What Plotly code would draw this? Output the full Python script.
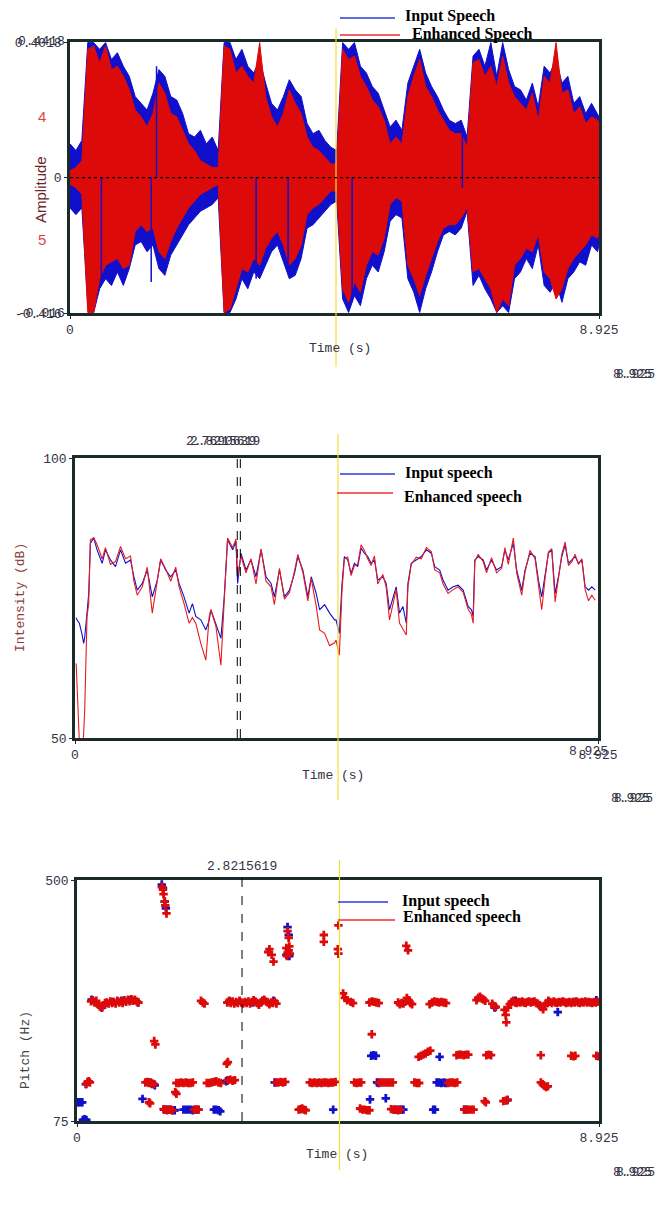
import plotly.graph_objects as go

W, H = 666, 1209
def px(x): return x / W
def py(y): return 1 - y / H

# ---------------- Panel 1: waveform envelopes (amplitude) ----------------
wave_t = [0.0,0.1,0.2,0.3,0.4,0.5,0.6,0.7,0.8,0.9,1.0,1.1,1.2,1.3,1.4,1.5,1.6,1.7,1.8,1.9,
          2.0,2.1,2.2,2.3,2.4,2.5,2.6,2.7,2.8,2.9,3.0,3.1,3.2,3.3,3.4,3.5,3.6,3.7,3.8,3.9,
          4.0,4.1,4.2,4.3,4.4,4.5,4.6,4.7,4.8,4.9,5.0,5.1,5.2,5.3,5.4,5.5,5.6,5.7,5.8,5.9,
          6.0,6.1,6.2,6.3,6.4,6.5,6.6,6.7,6.8,6.9,7.0,7.1,7.2,7.3,7.4,7.5,7.6,7.7,7.8,7.9,
          8.0,8.1,8.2,8.3,8.4,8.5,8.6,8.7,8.8,8.9,8.925]
input_upper = [0.10,0.08,0.11,0.40,0.40,0.38,0.40,0.35,0.37,0.33,0.30,0.24,0.22,0.20,0.25,0.32,0.30,0.24,0.23,0.19,
               0.13,0.12,0.14,0.10,0.12,0.08,0.40,0.40,0.35,0.38,0.33,0.31,0.35,0.28,0.22,0.20,0.24,0.29,0.26,0.24,
               0.16,0.13,0.14,0.11,0.09,0.08,0.40,0.38,0.40,0.33,0.31,0.27,0.25,0.20,0.15,0.17,0.14,0.28,0.33,0.38,
               0.31,0.27,0.24,0.20,0.17,0.16,0.17,0.12,0.36,0.38,0.33,0.40,0.30,0.40,0.32,0.27,0.26,0.23,0.28,0.21,
               0.33,0.31,0.35,0.28,0.30,0.22,0.24,0.19,0.22,0.19,0.18]
input_lower = [-0.09,-0.11,-0.09,-0.38,-0.40,-0.33,-0.30,-0.32,-0.28,-0.32,-0.27,-0.20,-0.19,-0.22,-0.20,-0.27,-0.29,-0.23,-0.20,-0.17,
               -0.14,-0.12,-0.10,-0.09,-0.08,-0.06,-0.40,-0.40,-0.36,-0.30,-0.33,-0.28,-0.30,-0.26,-0.22,-0.20,-0.25,-0.30,-0.29,-0.24,
               -0.15,-0.14,-0.12,-0.10,-0.08,-0.07,-0.36,-0.40,-0.35,-0.38,-0.30,-0.26,-0.28,-0.22,-0.13,-0.11,-0.12,-0.30,-0.34,-0.40,
               -0.33,-0.28,-0.22,-0.17,-0.16,-0.17,-0.15,-0.10,-0.32,-0.29,-0.33,-0.36,-0.40,-0.38,-0.40,-0.30,-0.28,-0.24,-0.27,-0.20,
               -0.32,-0.34,-0.31,-0.37,-0.30,-0.28,-0.25,-0.26,-0.20,-0.22,-0.20]
enh_upper = [0.02,0.03,0.05,0.38,0.39,0.34,0.39,0.32,0.33,0.30,0.26,0.20,0.18,0.15,0.19,0.28,0.25,0.19,0.18,0.14,
             0.10,0.08,0.05,0.04,0.03,0.03,0.39,0.38,0.31,0.33,0.30,0.28,0.40,0.24,0.18,0.15,0.19,0.26,0.22,0.19,
             0.12,0.09,0.08,0.06,0.04,0.04,0.38,0.35,0.36,0.30,0.27,0.23,0.21,0.17,0.10,0.12,0.10,0.24,0.30,0.35,
             0.27,0.24,0.20,0.17,0.14,0.13,0.13,0.09,0.34,0.35,0.30,0.33,0.27,0.36,0.28,0.24,0.22,0.20,0.25,0.17,
             0.30,0.28,0.40,0.25,0.26,0.19,0.21,0.16,0.18,0.17,0.16]
enh_lower = [-0.02,-0.03,-0.05,-0.40,-0.40,-0.30,-0.26,-0.25,-0.24,-0.27,-0.26,-0.16,-0.14,-0.16,-0.15,-0.22,-0.24,-0.19,-0.15,-0.12,
             -0.09,-0.07,-0.05,-0.04,-0.03,-0.02,-0.40,-0.39,-0.33,-0.27,-0.28,-0.24,-0.26,-0.21,-0.18,-0.16,-0.20,-0.26,-0.24,-0.20,
             -0.11,-0.09,-0.08,-0.06,-0.04,-0.04,-0.33,-0.37,-0.31,-0.34,-0.26,-0.22,-0.23,-0.18,-0.08,-0.06,-0.07,-0.26,-0.30,-0.35,
             -0.29,-0.24,-0.19,-0.15,-0.14,-0.14,-0.12,-0.09,-0.28,-0.27,-0.30,-0.33,-0.40,-0.36,-0.38,-0.26,-0.24,-0.21,-0.22,-0.17,
             -0.28,-0.30,-0.36,-0.33,-0.27,-0.24,-0.22,-0.20,-0.17,-0.18,-0.17]
# single input-speech spikes visible inside the red area (time, from, to)
spike_t = [0.53, 1.37, 1.46, 3.14, 3.68, 4.76, 6.62]
spike_from = [0.0, 0.0, 0.0, 0.0, 0.0, 0.0, -0.03]
spike_to = [-0.30, -0.31, 0.33, -0.30, -0.27, -0.37, 0.14]

# ---------------- Panel 2: intensity (dB) ----------------
int_t = [0.02,0.034,0.074,0.091,0.12,0.148,0.166,0.205,0.234,0.263,0.32,0.377,0.463,0.52,0.605,0.691,0.777,0.862,0.948,
         1.005,1.062,1.148,1.233,1.319,1.405,1.462,1.547,1.633,1.719,1.776,1.861,1.947,2.004,2.061,2.147,2.233,2.29,2.318,
         2.404,2.49,2.547,2.604,2.69,2.746,2.775,2.832,2.918,3.003,3.089,3.175,3.26,3.346,3.403,3.489,3.574,3.66,3.746,
         3.803,3.888,3.974,4.031,4.117,4.174,4.26,4.345,4.431,4.454,4.511,4.557,4.597,4.654,4.711,4.768,4.825,4.882,
         4.939,4.996,5.053,5.11,5.167,5.253,5.31,5.367,5.424,5.481,5.538,5.596,5.653,5.681,5.738,5.824,5.91,5.996,
         6.081,6.138,6.224,6.281,6.367,6.452,6.538,6.624,6.709,6.766,6.795,6.823,6.88,6.966,7.023,7.109,7.194,7.28,
         7.337,7.394,7.48,7.537,7.623,7.68,7.765,7.851,7.908,7.965,8.022,8.079,8.136,8.193,8.25,8.307,8.364,8.421,
         8.478,8.535,8.592,8.649,8.706,8.763,8.82,8.877]
int_input = [71.5,71.1,70.5,69.9,68.5,66.9,68.0,72.3,75.8,84.8,85.7,83.6,81.2,83.6,81.8,80.6,83.6,81.2,81.8,
             78.8,76.4,77.6,80.0,75.2,78.2,81.8,80.0,78.8,80.0,77.6,75.2,72.3,74.0,71.7,71.1,69.3,71.0,72.9,
             70.5,67.8,75.2,85.4,83.6,85.1,77.6,83.0,80.0,81.8,78.8,83.6,78.8,77.6,75.2,80.0,75.2,76.4,79.4,
             82.4,80.0,75.2,78.8,75.8,72.9,73.8,72.3,71.1,71.1,68.7,77.6,82.4,81.8,79.4,81.2,80.6,83.9,
             83.0,82.4,81.2,81.8,78.2,78.8,77.6,72.9,75.2,77.0,72.3,73.5,70.5,77.6,81.2,81.8,82.4,83.6,
             83.0,80.6,80.0,78.2,76.4,77.0,77.3,76.4,73.5,72.9,71.7,81.8,82.4,81.8,80.0,81.8,80.0,80.6,
             83.6,81.8,84.8,80.0,76.4,80.0,83.0,82.4,78.2,75.2,78.8,83.0,83.6,75.8,78.8,82.4,84.5,81.2,
             81.8,82.4,81.2,81.8,77.0,76.4,77.0,76.4]
int_enhanced = [63.3,58.0,45.0,45.0,45.0,50.5,55.0,71.7,74.0,85.4,85.8,84.5,82.0,84.0,81.0,81.5,84.2,82.0,82.5,
                78.0,75.5,77.0,80.5,72.3,77.8,82.0,80.2,78.0,80.5,77.0,74.0,70.5,71.5,70.5,66.9,63.9,71.7,72.9,
                70.0,63.0,74.6,85.7,84.0,85.5,79.0,82.5,79.5,82.0,77.5,83.8,78.0,77.0,73.8,80.3,74.8,76.0,79.8,
                82.8,79.6,74.5,78.5,73.5,69.3,68.7,66.5,67.0,67.5,64.8,76.5,82.0,82.3,79.0,80.8,81.0,84.5,
                83.5,82.0,80.8,82.5,77.5,79.2,77.0,71.1,74.0,76.5,70.5,69.3,68.4,77.0,81.0,82.3,82.0,84.0,
                83.3,80.0,79.5,77.5,75.8,76.5,77.0,76.0,73.0,72.0,70.5,81.5,82.8,81.5,79.5,82.2,79.5,80.3,
                84.0,81.0,85.7,79.5,75.5,79.6,83.5,82.0,77.5,72.9,78.5,83.2,83.8,74.3,78.5,82.8,85.0,80.8,
                81.5,82.8,81.0,82.0,76.5,74.5,75.5,74.6]

# ---------------- Panel 3: pitch (Hz) ----------------
pitch_enh_t = [0.24,0.27,0.30,0.33,0.36,0.39,0.42,0.45,0.48,0.51,0.54,0.57,0.60,0.63,0.66,0.69,0.72,0.75,0.78,0.81,0.84,0.87,0.90,0.93,0.96,0.99,1.02,1.05,
               1.45,1.47,1.48,1.50,1.51,1.53,1.32,1.34,0.16,0.18,0.20,0.22,1.17,1.20,1.23,1.26,1.29,1.32,1.23,1.25,1.68,1.70,
               1.48,1.51,1.54,1.57,1.60,1.63,1.70,1.74,1.78,1.82,1.86,1.90,1.94,1.98,2.00,2.04,2.08,2.12,2.15,2.18,
               2.22,2.26,2.30,2.34,2.38,2.42,2.46,2.56,2.58,2.58,2.62,2.66,2.70,
               2.57,2.60,2.63,2.66,2.69,2.72,2.75,2.78,2.81,2.84,2.87,2.90,2.93,2.96,2.99,3.02,3.05,3.08,3.11,3.14,3.17,3.20,3.23,3.26,3.29,3.32,3.35,3.38,3.41,
               3.27,3.29,3.33,3.36,3.40,3.44,3.48,3.52,3.56,3.60,3.62,3.58,3.60,3.62,3.64,3.59,3.63,
               3.79,3.82,3.85,3.88,3.91,3.98,4.02,4.06,4.10,4.14,4.18,4.22,4.26,4.30,4.34,4.38,4.42,4.22,4.22,4.47,4.46,4.47,
               4.55,4.58,4.62,4.68,4.72,4.74,4.78,4.82,4.86,4.84,4.88,4.92,4.96,5.00,5.04,5.00,5.04,5.08,5.12,5.16,
               5.16,5.20,5.24,5.28,5.32,5.36,5.40,5.37,5.41,5.45,5.49,5.53,5.49,5.52,5.55,5.58,5.61,5.64,5.67,5.70,5.73,
               5.63,5.66,5.77,5.81,5.85,5.84,5.88,5.92,5.96,6.00,6.04,6.03,6.07,6.11,6.15,6.19,6.23,6.27,6.31,
               6.34,6.38,6.42,6.46,6.50,6.49,6.53,6.57,6.61,6.65,6.69,6.62,6.66,6.70,6.74,6.78,6.83,6.86,6.89,6.92,6.95,6.98,
               6.97,6.99,7.00,7.04,7.08,7.10,7.13,7.16,7.29,7.33,7.36,
               7.31,7.33,7.34,7.37,7.40,7.43,7.46,7.49,7.52,7.55,7.58,7.61,7.64,7.67,7.70,7.73,7.76,7.79,7.82,7.85,7.88,7.91,7.94,7.97,
               8.00,8.03,8.06,8.09,8.12,8.15,8.18,8.21,8.24,8.27,8.30,8.33,8.36,8.39,8.42,8.45,8.48,8.51,8.54,8.57,8.60,8.63,8.66,8.69,8.72,8.75,8.78,8.81,8.84,8.87,8.90,
               7.93,7.93,7.96,7.99,8.02,8.05,8.45,8.49,8.52,8.88,8.91]
pitch_enh_hz = [286,288,284,287,281,277,275,279,283,284,282,286,283,285,282,287,284,286,283,288,285,289,286,290,287,289,286,284,
                488,483,475,462,455,441,216,210,140,144,145,143,143,144,142,143,141,140,108,106,126,123,
                96,95,94,95,95,94,142,142,143,142,143,142,142,143,95,95,95,287,284,282,
                142,142,143,144,145,143,142,176,179,147,148,146,147,
                284,287,283,286,282,285,283,287,284,282,285,283,286,282,285,288,286,283,280,284,287,289,286,284,281,284,283,286,282,
                373,378,368,356,143,143,144,143,144,410,398,380,372,376,370,366,383,
                95,96,97,95,94,143,142,143,142,143,142,143,143,142,143,143,144,403,391,420,378,370,
                300,292,288,285,283,143,142,143,143,97,95,95,94,94,228,284,286,285,284,283,
                143,143,143,143,143,143,143,96,95,95,94,95,284,281,283,282,285,292,288,283,281,
                384,376,143,142,142,188,190,192,194,197,199,281,284,286,285,284,285,284,283,
                142,143,143,142,143,191,192,192,191,192,192,95,95,95,95,95,288,292,294,291,289,287,
                110,108,191,192,191,282,278,276,110,111,112,
                271,262,249,275,281,285,287,284,283,285,284,286,284,283,285,286,284,285,286,283,282,279,276,272,
                278,283,287,285,283,286,284,283,285,284,286,285,283,284,285,283,285,284,286,284,283,285,284,286,284,285,284,283,285,284,285,
                191,143,140,137,135,136,190,189,190,190,189]
pitch_in_t = [0.00,0.03,0.06,0.09,0.10,0.13,0.16,0.15,0.25,0.31,0.43,0.61,0.76,0.91,1.04,1.12,1.45,1.47,1.50,1.52,
              1.23,1.28,1.33,1.49,1.52,1.55,1.60,1.63,1.67,1.82,1.86,1.90,1.94,1.98,2.02,2.06,2.34,2.38,2.42,2.45,
              2.55,2.57,2.61,3.01,3.36,3.60,3.62,3.58,3.63,3.38,3.83,4.38,5.03,5.07,5.11,5.01,5.28,5.13,5.16,
              5.43,5.47,5.51,5.55,5.58,6.09,6.12,6.15,6.19,6.23,6.27,6.30,6.20,6.62,6.66,7.14,7.36,7.91,8.22,7.50,8.50,8.88]
pitch_in_hz = [108,108,108,108,77,78,77,140,289,285,275,285,287,288,284,114,492,486,462,450,
               143,140,138,95,95,95,95,94,94,95,95,95,95,94,95,95,95,95,94,92,
               145,146,286,284,287,417,403,368,366,143,96,95,190,191,190,113,115,143,142,
               95,95,95,95,95,95,95,143,143,142,143,142,188,95,95,275,112,279,267,287,285,288]

BLUE = "#1010cc"
RED = "#dd0a0a"
FRAME = "#1b2a2a"
MONO = "Liberation Mono, Courier New, monospace"
SERIF = "Liberation Serif, Times New Roman, serif"
SANS = "Liberation Sans, Arial, sans-serif"

fig = go.Figure()

fig.add_trace(go.Scatter(x=wave_t + wave_t[::-1], y=input_upper + input_lower[::-1],
                         fill="toself", fillcolor=BLUE, mode="lines",
                         line=dict(color=BLUE, width=1), xaxis="x", yaxis="y",
                         name="Input Speech", hoverinfo="skip"))
fig.add_trace(go.Scatter(x=wave_t + wave_t[::-1], y=enh_upper + enh_lower[::-1],
                         fill="toself", fillcolor=RED, mode="lines",
                         line=dict(color=RED, width=1), xaxis="x", yaxis="y",
                         name="Enhanced Speech", hoverinfo="skip"))
sx, sy = [], []
for t, a, b in zip(spike_t, spike_from, spike_to):
    sx += [t, t, None]
    sy += [a, b, None]
fig.add_trace(go.Scatter(x=sx, y=sy, mode="lines", line=dict(color=BLUE, width=1.5),
                         xaxis="x", yaxis="y", hoverinfo="skip", name="Input Speech"))

fig.add_trace(go.Scatter(x=int_t, y=int_input, mode="lines", line=dict(color=BLUE, width=1.1),
                         xaxis="x2", yaxis="y2", name="Input speech"))
fig.add_trace(go.Scatter(x=int_t, y=int_enhanced, mode="lines", line=dict(color="#e81c1c", width=1.1),
                         xaxis="x2", yaxis="y2", name="Enhanced speech"))

fig.add_trace(go.Scatter(x=pitch_in_t, y=pitch_in_hz, mode="markers",
                         marker=dict(symbol="cross", size=7, color=BLUE),
                         xaxis="x3", yaxis="y3", name="Input speech"))
fig.add_trace(go.Scatter(x=pitch_enh_t, y=pitch_enh_hz, mode="markers",
                         marker=dict(symbol="cross", size=7, color=RED),
                         xaxis="x3", yaxis="y3", name="Enhanced speech"))

def ax(domain, rng, tickvals, ticktext, anchor):
    return dict(domain=domain, range=rng, tickvals=tickvals, ticktext=ticktext, anchor=anchor,
                showline=True, mirror=True, linecolor=FRAME, linewidth=2.5,
                showgrid=False, zeroline=False, ticks="outside", ticklen=3, tickcolor=FRAME,
                automargin=False,
                tickfont=dict(family=MONO, size=13, color="#333344"))

T_END = 8.925
layout = dict(
    width=W, height=H, autosize=False,
    margin=dict(l=0, r=0, t=0, b=0, pad=0, autoexpand=False),
    paper_bgcolor="white", plot_bgcolor="white", showlegend=False,
    xaxis=ax([px(70), px(599)], [0, T_END], [0, T_END], ["0", "8.925"], "y"),
    yaxis=ax([py(313), py(42)], [-0.4016, 0.4018], [-0.4016, 0, 0.4018], ["-0.416", "0", "0.4018"], "x"),
    xaxis2=ax([px(75), px(598)], [0, T_END], [0, T_END], ["0", "8.925"], "y2"),
    yaxis2=ax([py(738), py(458)], [50, 100], [50, 100], ["50", "100"], "x2"),
    xaxis3=ax([px(77), px(599)], [0, T_END], [0, T_END], ["0", "8.925"], "y3"),
    yaxis3=ax([py(1121), py(880)], [75, 500], [75, 500], ["75", "500"], "x3"),
)
fig.update_layout(**layout)

CURSOR = 4.488
shapes = []
for xr, y0, y1 in (("x", 28, 367), ("x2", 434, 800), ("x3", 860, 1170)):
    shapes.append(dict(type="line", xref=xr, yref="paper", x0=CURSOR, x1=CURSOR,
                       y0=py(y1), y1=py(y0), line=dict(color="#f2e03a", width=1.2), layer="above"))
shapes.append(dict(type="line", xref="x", yref="y", x0=0, x1=T_END, y0=0, y1=0,
                   line=dict(color="black", width=1.2, dash="dot"), layer="above"))
for t in (2.7690639, 2.8215619):
    shapes.append(dict(type="line", xref="x2", yref="paper", x0=t, x1=t, y0=py(738), y1=py(452),
                       line=dict(color="black", width=1, dash="dash"), layer="above"))
shapes.append(dict(type="line", xref="x3", yref="paper", x0=2.8215619, x1=2.8215619, y0=py(1121), y1=py(874),
                   line=dict(color="black", width=1, dash="dash"), layer="above"))
for (x0, x1, y, c) in ((340, 395, 18, "#2a3ae0"), (340, 400, 35, "#ee3030"),
                       (340, 395, 474, "#2a3ae0"), (337, 393, 493, "#ee3030"),
                       (338, 388, 902, "#2a3ae0"), (338, 395, 920, "#ee3030")):
    shapes.append(dict(type="line", xref="paper", yref="paper", x0=px(x0), x1=px(x1), y0=py(y), y1=py(y),
                       line=dict(color=c, width=1.3)))
fig.update_layout(shapes=shapes)

ann = []
def text(x, y, s, size=13, color="#333344", family=MONO, xanchor="center", angle=0, bold=False):
    if bold:
        s = "<b>" + s + "</b>"
    ann.append(dict(x=px(x), y=py(y), xref="paper", yref="paper", text=s, showarrow=False,
                    xanchor=xanchor, yanchor="middle", textangle=angle,
                    font=dict(family=family, size=size, color=color)))

text(403, 16, "Input Speech", 16, "black", SERIF, "left", bold=True)
text(410, 34, "Enhanced Speech", 16, "black", SERIF, "left", bold=True)
text(403, 473, "Input speech", 16, "black", SERIF, "left", bold=True)
text(402, 497, "Enhanced speech", 16, "black", SERIF, "left", bold=True)
text(400, 901, "Input speech", 16, "black", SERIF, "left", bold=True)
text(401, 917, "Enhanced speech", 16, "black", SERIF, "left", bold=True)

text(340, 349, "Time (s)")
text(333, 775, "Time (s)")
text(337, 1154, "Time (s)")
text(40, 190, "Amplitude", 15, "#6b2626", SANS, angle=-90)
text(20, 598, "Intensity (dB)", 13, "#8a3b3b", MONO, angle=-90)
text(25, 1050, "Pitch (Hz)", 13, "#444444", MONO, angle=-90)

text(42, 116, "4", 15, "#e04545", SANS)
text(42, 240, "5", 15, "#e04545", SANS)

text(67, 42, "0.4418", 13, "#333344", MONO, "right")
text(67, 313, "-0.016", 13, "#333344", MONO, "right")
for (x, y) in ((632, 375), (630, 798), (632, 1172)):
    text(x, y, "8.925", 13, "#333344", MONO)
    text(x + 3, y, "8.925", 13, "#333344", MONO)
text(588, 751, "8.925", 13, "#333344", MONO)
text(221, 441, "2.7690639", 13, "#333344", MONO)
text(225, 441, "2.8215619", 13, "#333344", MONO)
text(242, 866, "2.8215619", 13, "#333344", MONO)

fig.update_layout(annotations=ann)
fig.write_html("out.html")
